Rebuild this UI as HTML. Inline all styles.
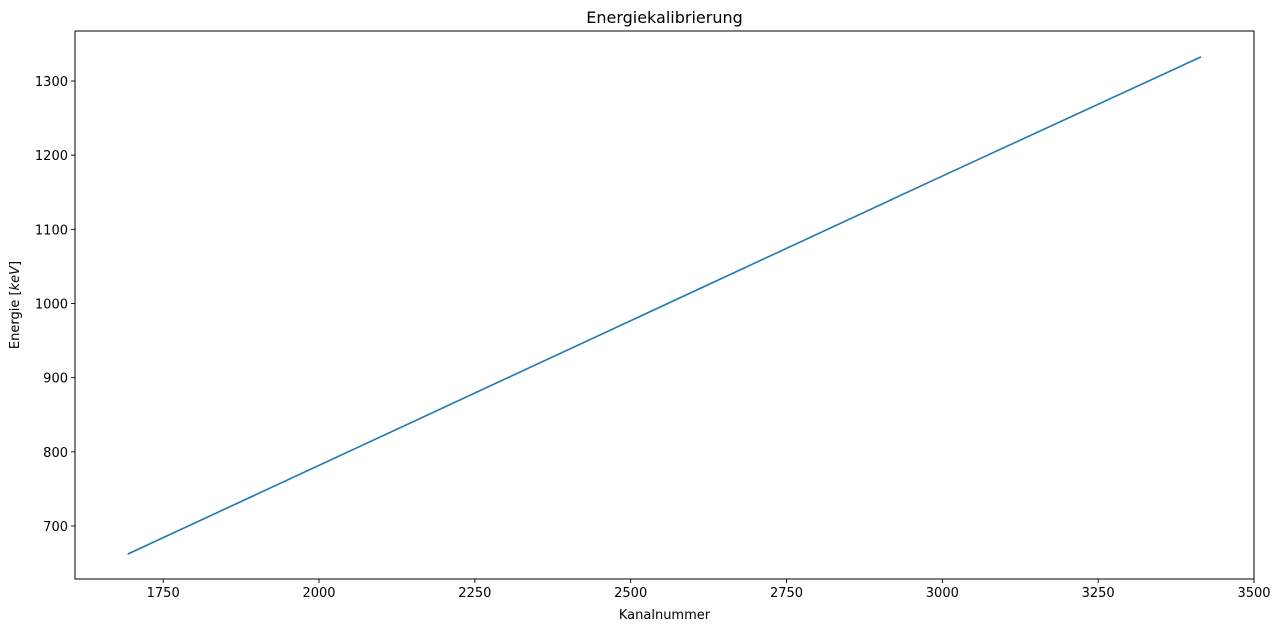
<!DOCTYPE html>
<html><head><meta charset="utf-8"><style>
body{margin:0;background:#fff;font-family:"DejaVu Sans","Liberation Sans",sans-serif;}
svg text{font-family:"DejaVu Sans","Liberation Sans",sans-serif;}
</style></head><body>
<svg id="chart" width="1280" height="629"></svg>
<script>
const channels=[1693,3003,3415];
const energies=[662,1173,1332.5];
const xTicks=[1750,2000,2250,2500,2750,3000,3250,3500];
const yTicks=[700,800,900,1000,1100,1200,1300];
const L=75,R=1254,T=31,B=579;
const xmin=1608.5,xmax=3500,ymin=628.5,ymax=1367.4;
const sx=v=>L+(v-xmin)/(xmax-xmin)*(R-L);
const sy=v=>B-(v-ymin)/(ymax-ymin)*(B-T);
const svg=document.getElementById('chart');
const NS='http://www.w3.org/2000/svg';
function mk(t,a){const e=document.createElementNS(NS,t);for(const k in a)e.setAttribute(k,a[k]);svg.appendChild(e);return e;}
let p=channels.map((c,i)=>(i?'L':'M')+sx(c)+','+sy(energies[i])).join(' ');
let line=mk('path',{d:p,fill:'none',stroke:'#1f77b4','stroke-width':1.6});


xTicks.forEach(t=>{const x=sx(t);
 let tk=mk('line',{x1:x,x2:x,y1:B,y2:B+4,stroke:'#000','stroke-width':0.9});
 
 
 let tx=mk('text',{x:x,y:B+18,'text-anchor':'middle','font-size':13});tx.textContent=t;
 
 });
yTicks.forEach(t=>{const y=sy(t);
 let tk=mk('line',{x1:L-4,x2:L,y1:y,y2:y,stroke:'#000','stroke-width':0.9});
 
 
 let tx=mk('text',{x:L-7,y:y+5,'text-anchor':'end','font-size':13});tx.textContent=t;
 
 });
let fr=mk('rect',{x:L,y:T,width:R-L,height:B-T,fill:'none',stroke:'#000','stroke-width':1});


let ti=mk('text',{x:(L+R)/2,y:23,'text-anchor':'middle','font-size':16});ti.textContent='Energiekalibrierung';


let xl=mk('text',{x:(L+R)/2,y:619,'text-anchor':'middle','font-size':13});xl.textContent='Kanalnummer';


let yl=mk('text',{x:0,y:0,'text-anchor':'middle','font-size':13,transform:'translate(19,'+((T+B)/2)+') rotate(-90)'});
yl.innerHTML='Energie [<tspan font-style="italic">keV</tspan>]';


</script>
</body></html>
